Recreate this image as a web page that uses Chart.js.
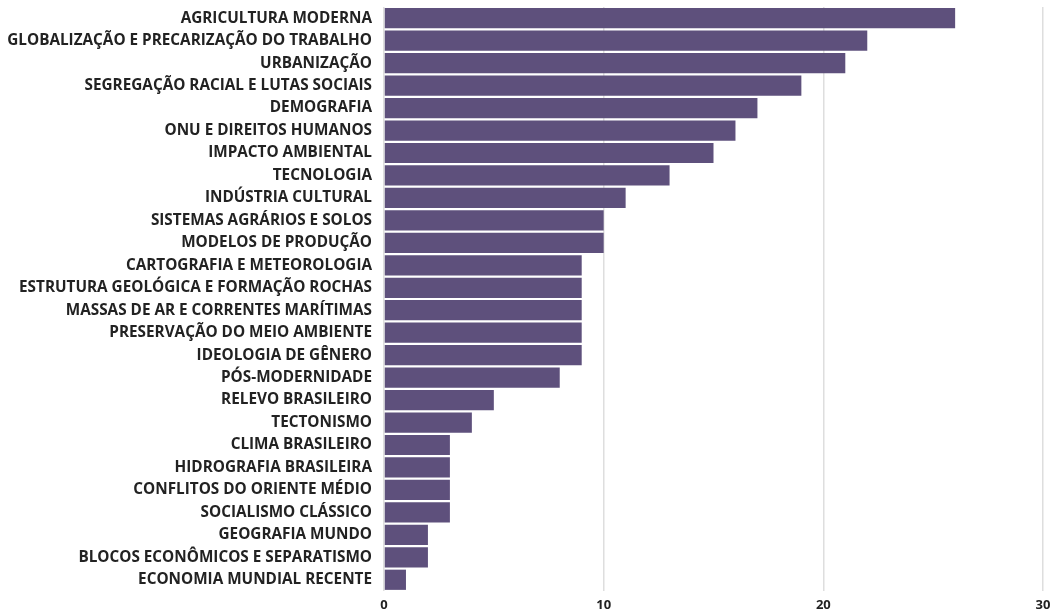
<!DOCTYPE html>
<html>
<head>
<meta charset="utf-8">
<script src="https://cdn.jsdelivr.net/npm/chart.js@4"></script>
<style>
  html, body { margin: 0; padding: 0; background: #ffffff; }
  #wrap { width: 1054px; height: 612px; }
</style>
</head>
<body>
<div id="wrap"><canvas id="barChart" width="1054" height="612"></canvas></div>
<script>
// --- Data ---
const categories = [
    "AGRICULTURA MODERNA",
    "GLOBALIZAÇÃO E PRECARIZAÇÃO DO TRABALHO",
    "URBANIZAÇÃO",
    "SEGREGAÇÃO RACIAL E LUTAS SOCIAIS",
    "DEMOGRAFIA",
    "ONU E DIREITOS HUMANOS",
    "IMPACTO AMBIENTAL",
    "TECNOLOGIA",
    "INDÚSTRIA CULTURAL",
    "SISTEMAS AGRÁRIOS E SOLOS",
    "MODELOS DE PRODUÇÃO",
    "CARTOGRAFIA E METEOROLOGIA",
    "ESTRUTURA GEOLÓGICA E FORMAÇÃO ROCHAS",
    "MASSAS DE AR E CORRENTES MARÍTIMAS",
    "PRESERVAÇÃO DO MEIO AMBIENTE",
    "IDEOLOGIA DE GÊNERO",
    "PÓS-MODERNIDADE",
    "RELEVO BRASILEIRO",
    "TECTONISMO",
    "CLIMA BRASILEIRO",
    "HIDROGRAFIA BRASILEIRA",
    "CONFLITOS DO ORIENTE MÉDIO",
    "SOCIALISMO CLÁSSICO",
    "GEOGRAFIA MUNDO",
    "BLOCOS ECONÔMICOS E SEPARATISMO",
    "ECONOMIA MUNDIAL RECENTE"
];
const counts = [26, 22, 21, 19, 17, 16, 15, 13, 11, 10, 10, 9, 9, 9, 9, 9, 8, 5, 4, 3, 3, 3, 3, 2, 2, 1];
const xTicks = [0, 10, 20, 30];

const BAR_COLOR = "#5e507c";
const FONT = "'Open Sans', 'Noto Sans', sans-serif";

const ctx = document.getElementById("barChart").getContext("2d");
new Chart(ctx, {
    type: "bar",
    data: {
        labels: categories,
        datasets: [{
            data: counts,
            backgroundColor: BAR_COLOR,
            borderWidth: 0,
            barPercentage: 0.9,
            categoryPercentage: 1.0
        }]
    },
    options: {
        indexAxis: "y",
        responsive: false,
        animation: false,
        layout: { padding: { top: 7, right: 11, bottom: 0, left: 0 } },
        plugins: {
            legend: { display: false },
            tooltip: { enabled: false }
        },
        scales: {
            x: {
                min: 0,
                max: 30,
                afterBuildTicks: function(scale) {
                    scale.ticks = xTicks.map(v => ({ value: v }));
                },
                afterFit: function(scale) {
                    scale.height = 21;
                    scale.paddingLeft = 0;
                    scale.paddingRight = 0;
                },
                grid: {
                    color: "#dedede",
                    lineWidth: 1.5,
                    drawTicks: false
                },
                border: { display: false },
                ticks: {
                    color: "#222222",
                    padding: 6,
                    font: { family: FONT, size: 13, weight: "bold" }
                }
            },
            y: {
                afterFit: function(scale) {
                    scale.width = 384;
                    scale.paddingTop = 0;
                    scale.paddingBottom = 0;
                },
                grid: { display: false },
                border: { display: false },
                ticks: {
                    color: "#222222",
                    padding: 4,
                    autoSkip: false,
                    font: { family: FONT, size: 15.3, weight: "bold" }
                }
            }
        }
    }
});
</script>
</body>
</html>
